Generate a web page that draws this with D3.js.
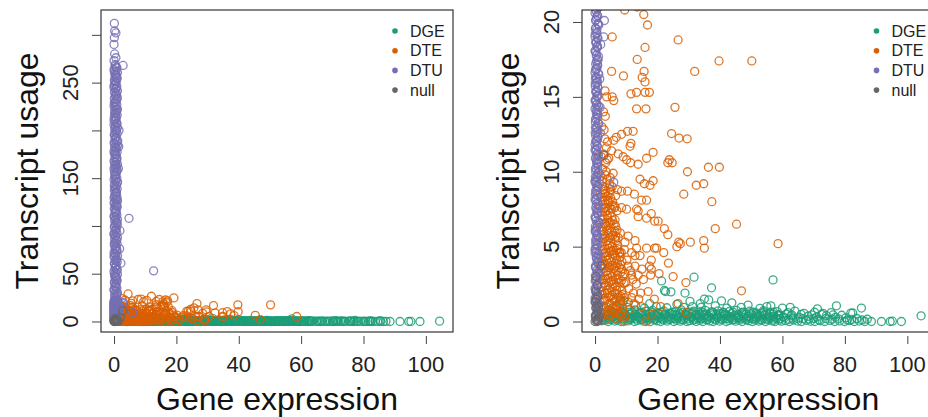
<html>
<head>
<script src="https://d3js.org/d3.v7.min.js"></script>
<style>
body { margin: 0; background: #fff; font-family: "Liberation Sans", Arial, sans-serif; }
svg { display: block; }
.tick line { stroke: #444; }
text.tlab { font-size: 22px; fill: #222; }
text.title { font-size: 32px; fill: #111; }
text.leg { font-size: 16px; fill: #222; dominant-baseline: central; }
</style>
</head>
<body>
<div id="plot"></div>
<script>

var categories = ["DGE", "DTE", "DTU", "null"];
var colors = ["#1B9E77", "#D95F02", "#7570B3", "#666666"];

// [gene expression, transcript usage]
var dgePoints = [
  [2.1,0.05],[3.0,0.1],[4.2,0.0],[5.1,0.12],[6.3,0.03],[7.2,0.08],[8.4,0.0],[9.3,0.1],[10.5,0.04],[11.4,0.13],
  [12.6,0.0],[13.5,0.07],[14.7,0.11],[15.6,0.02],[16.8,0.09],[17.7,0.0],[18.9,0.12],[19.8,0.05],[21.0,0.0],[21.9,0.1],
  [23.1,0.03],[24.0,0.14],[25.2,0.0],[26.1,0.08],[27.3,0.02],[28.2,0.11],[29.4,0.0],[30.3,0.06],[31.5,0.1],[32.4,0.01],
  [33.6,0.09],[34.5,0.0],[35.7,0.12],[36.6,0.04],[37.8,0.0],[38.7,0.1],[39.9,0.03],[40.8,0.13],[42.0,0.0],[42.9,0.07],
  [44.1,0.11],[45.0,0.02],[46.2,0.09],[47.1,0.0],[48.3,0.12],[49.2,0.05],[50.4,0.0],[51.3,0.1],[52.5,0.03],[53.4,0.08],
  [54.6,0.0],[55.5,0.11],[56.7,0.04],[57.6,0.0],[58.8,0.09],[59.7,0.02],[61.0,0.06],[62.2,0.0],[63.5,0.1],[64.9,0.03],
  [66.1,0.0],[67.6,0.08],[69.0,0.02],[70.4,0.0],[72.1,0.05],[73.5,0.0],[75.2,0.07],[76.8,0.0],[78.3,0.04],[79.9,0.0],
  [81.5,0.06],[83.0,0.0],[84.6,0.03],[86.4,0.0],[88.5,0.0],[91.7,0.0],[94.5,0.0],[95.2,0.02],[98.1,0.0],[104.4,0.38],
  [2.6,0.3],[4.0,0.42],[5.5,0.28],[6.9,0.4],[8.2,0.33],[9.7,0.45],[11.0,0.26],[12.4,0.38],[13.9,0.3],[15.2,0.44],
  [16.6,0.27],[18.1,0.36],[19.4,0.42],[20.8,0.29],[22.3,0.4],[23.6,0.32],[25.0,0.45],[26.5,0.26],[27.8,0.37],[29.2,0.43],
  [30.7,0.3],[32.0,0.41],[33.4,0.27],[34.9,0.39],[36.2,0.33],[37.6,0.45],[39.1,0.28],[40.4,0.36],[41.8,0.42],[43.3,0.3],
  [44.6,0.4],[46.0,0.26],[47.5,0.38],[48.8,0.32],[50.2,0.44],[51.7,0.29],[53.0,0.37],[54.4,0.41],[55.9,0.27],[57.2,0.35],
  [58.6,0.43],[60.3,0.3],[62.8,0.38],[65.4,0.27],[68.2,0.35],[71.0,0.3],[74.1,0.4],[77.0,0.28],[80.3,0.25],[83.8,0.2],
  [87.2,0.15],
  [3.3,0.6],[5.0,0.72],[7.4,0.58],[9.0,0.7],[10.9,0.63],[12.8,0.77],[14.5,0.57],[16.3,0.68],[18.4,0.74],[20.1,0.6],
  [22.0,0.7],[23.9,0.56],[25.8,0.66],[27.6,0.78],[29.8,0.62],[31.6,0.7],[33.3,0.59],[35.3,0.75],[37.2,0.64],[39.4,0.71],
  [41.2,0.58],[43.0,0.67],[45.2,0.75],[47.0,0.6],[49.5,0.69],[51.6,0.57],[53.9,0.72],[56.0,0.62],[58.3,0.66],[61.8,0.6],
  [64.0,0.7],[66.9,0.55],[70.3,0.62],[73.0,0.55],[75.6,0.6],[82.5,0.57],
  [2.5,0.15],[3.5,0.22],[4.6,0.18],[5.6,0.25],[6.7,0.16],[7.7,0.21],[8.8,0.19],[9.8,0.24],[10.9,0.15],[11.9,0.22],
  [13.0,0.18],[14.0,0.25],[15.1,0.16],[16.1,0.21],[17.2,0.19],[18.2,0.24],[19.3,0.15],[20.3,0.22],[21.4,0.18],[22.4,0.25],
  [23.5,0.16],[24.5,0.21],[25.6,0.19],[26.6,0.24],[27.7,0.15],[28.7,0.22],[29.8,0.18],[30.8,0.25],[31.9,0.16],[32.9,0.21],
  [34.0,0.19],[35.0,0.24],[36.1,0.15],[37.1,0.22],[38.2,0.18],[39.2,0.25],[40.3,0.16],[41.3,0.21],[42.4,0.19],[43.4,0.24],
  [44.5,0.15],[45.5,0.22],[46.6,0.18],[47.6,0.25],[48.7,0.16],[49.7,0.21],[50.8,0.19],[51.8,0.24],[52.9,0.15],[53.9,0.22],
  [55.0,0.18],[56.0,0.25],[57.1,0.16],[58.1,0.21],[59.2,0.19],[60.6,0.24],[62.0,0.15],[63.3,0.22],[65.0,0.18],[66.6,0.2],
  [68.5,0.16],[70.0,0.21],[71.7,0.12],[73.9,0.2],[75.9,0.15],[78.0,0.18],[80.8,0.1],[82.2,0.14],[85.5,0.1],
  [2.9,0.5],[4.5,0.48],[6.0,0.53],[7.9,0.46],[9.4,0.52],[11.3,0.5],[12.9,0.47],[14.2,0.54],[16.0,0.49],[17.4,0.52],
  [19.0,0.46],[20.5,0.51],[22.6,0.5],[24.4,0.53],[26.0,0.47],[27.2,0.52],[28.9,0.49],[30.9,0.54],[32.6,0.46],[34.2,0.51],
  [35.8,0.5],[37.0,0.53],[38.9,0.47],[40.0,0.52],[41.6,0.49],[43.7,0.54],[45.6,0.46],[47.3,0.51],[48.4,0.5],[50.0,0.53],
  [52.0,0.47],[53.4,0.52],[55.2,0.49],[57.0,0.5],[59.0,0.46],[61.2,0.5],[63.0,0.45],[66.0,0.48],[69.4,0.45],[72.6,0.47],
  [76.2,0.44],[79.0,0.42],
  [3.7,0.38],[5.3,0.62],[6.9,0.38],[8.6,0.62],[10.2,0.38],[11.8,0.62],[13.4,0.38],[15.0,0.62],[16.7,0.38],[18.3,0.62],
  [19.9,0.38],[21.5,0.62],[23.1,0.38],[24.8,0.62],[26.4,0.38],[28.0,0.62],[29.6,0.38],[31.2,0.62],[32.9,0.38],[34.5,0.62],
  [36.1,0.38],[37.7,0.62],[39.3,0.38],[41.0,0.62],[42.6,0.38],[44.2,0.62],[45.8,0.38],[47.4,0.62],[49.1,0.38],[50.7,0.62],
  [52.3,0.38],[53.9,0.62],[55.5,0.38],[57.2,0.62],[58.8,0.38],
  [6.2,1.0],[8.8,1.3],[10.3,0.95],[13.0,1.1],[15.8,0.9],[17.5,1.2],[19.6,1.0],[23.0,0.92],[26.2,1.15],[28.4,0.95],
  [30.4,1.35],[31.2,1.0],[33.7,1.2],[35.0,1.5],[36.4,1.45],[34.0,0.95],[38.5,1.05],[42.2,0.9],[43.8,1.25],[46.8,0.95],
  [49.0,1.1],[52.8,0.88],[55.0,1.0],[56.3,1.05],[60.0,0.9],[62.5,0.95],[71.2,0.85],[77.3,1.05],[81.9,0.56],[85.3,0.9],
  [21.3,2.71],[22.2,2.07],[24.3,1.98],[28.8,1.9],[31.7,2.96],[37.3,2.25],[40.5,1.38],[57.0,2.78],[8.1,1.4],[22.6,2.0]
];

var dtePoints = [
  [16.8,19.8],[5.5,19.0],[26.6,18.8],[16.0,18.3],[13.5,17.5],[39.7,17.4],[50.2,17.4],[5.3,16.7],[15.7,16.7],[31.9,16.7],
  [9.1,16.4],[15.1,16.3],[16.0,16.0],[3.2,15.4],[3.7,15.0],[5.5,15.0],[6.0,14.75],[11.5,15.2],[13.3,15.3],[16.0,15.3],
  [17.4,15.3],[2.7,14.0],[3.3,13.7],[13.3,14.2],[16.3,14.2],[25.6,14.3],[24.5,12.55],[26.9,12.25],[29.5,12.2],[6.0,12.1],
  [6.8,12.3],[8.5,12.5],[10.4,12.7],[12.2,12.7],[11.5,11.9],[11.2,11.7],[5.3,11.4],[7.4,11.2],[9.0,11.0],[10.1,10.8],
  [11.4,10.6],[13.8,10.5],[16.5,10.9],[18.6,11.3],[23.3,10.6],[23.8,10.8],[24.7,10.6],[36.3,10.3],[39.8,10.3],[3.4,10.6],
  [3.9,10.8],[5.8,9.9],[29.6,10.0],[14.4,9.5],[15.8,9.2],[17.6,9.1],[18.6,9.4],[32.4,9.1],[34.8,9.2],[4.7,9.2],
  [5.5,9.0],[7.2,8.8],[8.5,8.7],[10.4,8.7],[12.6,8.5],[28.4,8.5],[14.9,8.1],[16.5,8.1],[37.4,8.0],[3.2,8.1],
  [4.3,8.0],[6.4,7.7],[8.5,7.6],[10.1,7.5],[13.3,7.5],[13.8,7.4],[13.8,7.0],[16.5,6.9],[18.0,7.2],[19.1,6.7],
  [20.2,6.7],[22.2,6.2],[23.3,5.8],[38.5,6.2],[45.3,6.5],[58.6,5.2],[30.5,5.3],[26.8,5.3],[26.2,5.0],[27.3,5.2],
  [34.8,5.4],[35.0,4.9],[19.1,4.9],[19.7,4.9],[16.5,4.9],[6.4,6.0],[7.4,5.6],[9.6,5.3],[10.6,5.7],[12.8,5.4],
  [13.3,4.9],[7.9,4.6],[11.7,4.6],[12.8,4.4],[14.4,4.4],[18.0,4.1],[17.4,3.7],[18.0,3.5],[17.8,3.1],[23.5,3.9],
  [10.6,3.7],[12.8,3.7],[13.8,3.1],[8.5,3.5],[9.6,3.2],[11.7,3.1],[29.1,2.6],[46.9,2.05],[26.6,1.2],[17.0,2.0],
  [14.6,1.9],[12.3,1.9],[11.7,1.6],[9.6,1.6],[10.6,1.3],[8.0,1.5],[7.0,1.1],[9.2,0.0],[16.3,0.0],[29.2,0.6],
  [4.5,28.8],[12.0,26.4],[19.2,24.7],[7.7,23.0],[8.7,23.5],[15.6,20.5],[17.2,21.5],[6.0,21.5],[10.5,22.0],[13.5,21.0],
  [3.5,22.5],[2.5,24.0],[9.5,20.8],[14.5,23.0],[16.5,22.5],
  [1.8,0.3],[3.4,0.1],[5.0,0.4],[6.6,0.2],[8.2,0.35],[2.3,0.8],[3.9,0.7],[5.6,0.9],[7.2,0.75],[8.9,0.85],
  [1.6,1.3],[3.1,1.4],[4.7,1.2],[6.2,1.35],[7.8,1.25],[2.4,1.8],[4.0,1.9],[5.5,1.75],[7.1,1.85],[8.7,1.8],
  [1.9,2.3],[3.3,2.4],[4.9,2.25],[6.5,2.35],[8.0,2.3],[2.6,2.8],[4.2,2.9],[5.8,2.75],[7.4,2.85],
  [1.7,3.3],[3.5,3.35],[5.1,3.25],[6.7,3.4],[8.3,3.3],[2.5,3.8],[4.0,3.9],[5.6,3.75],[7.2,3.85],
  [1.8,4.3],[3.3,4.35],[4.8,4.25],[6.4,4.4],[8.0,4.3],[2.7,4.8],[4.3,4.9],[5.9,4.75],[7.3,4.85],
  [1.9,5.3],[3.5,5.35],[5.0,5.25],[6.7,5.4],[2.6,5.8],[4.2,5.9],[5.7,5.75],[8.1,5.9],
  [1.8,6.3],[3.4,6.35],[4.9,6.25],[6.6,6.4],[2.5,6.8],[4.1,6.9],[5.6,6.75],
  [1.9,7.3],[3.3,7.35],[4.9,7.25],[7.0,7.4],[2.6,7.8],[4.2,7.9],[5.7,7.75],
  [2.0,8.3],[3.6,8.35],[5.0,8.25],[6.6,8.4],[2.8,8.8],[4.4,8.9],[2.2,9.4],[3.8,9.5],[2.4,10.2],
  [2.9,12.8],[3.6,11.6],[4.4,10.9],
  [2.9,0.5],[4.4,0.45],[6.0,0.6],[7.7,0.5],[9.5,0.3],[2.0,1.05],[3.6,1.0],[5.2,1.1],[6.8,1.0],[8.5,1.1],
  [2.8,1.55],[4.4,1.6],[6.0,1.5],[7.5,1.6],[9.2,1.4],[2.2,2.05],[3.8,2.1],[5.4,2.0],[6.9,2.1],[8.6,2.05],
  [2.9,2.55],[4.5,2.6],[6.1,2.5],[7.7,2.6],[9.3,2.55],[2.0,3.05],[3.9,3.1],[5.5,3.0],[7.1,3.1],[8.9,3.0],
  [2.9,3.55],[4.4,3.6],[6.1,3.55],[7.8,3.6],[2.1,4.05],[3.7,4.1],[5.3,4.0],[6.9,4.1],[8.6,4.0],
  [3.0,4.55],[4.6,4.6],[6.2,4.5],[7.8,4.6],[2.2,5.05],[3.9,5.1],[5.5,5.0],[7.1,5.1],
  [3.0,5.55],[4.6,5.6],[6.3,5.5],[2.2,6.05],[3.8,6.1],[5.3,6.0],[7.0,6.1],
  [3.0,6.55],[4.5,6.6],[6.1,6.5],[2.3,7.05],[3.9,7.1],[5.4,7.0],
  [3.0,7.55],[4.6,7.6],[6.3,7.6],[2.4,8.05],[4.0,8.1],[5.6,8.0],
  [3.2,8.55],[4.8,8.6],[2.5,9.0],[3.2,9.8],[4.9,9.6],[2.7,11.2],[3.1,12.2],
  [1.5,0.6],[3.0,0.95],[4.5,0.8],[6.3,0.85],[8.0,0.6],[1.6,1.8],[3.2,1.9],[4.8,1.65],[6.4,1.9],[8.1,1.7],
  [1.5,2.7],[3.4,2.8],[5.0,2.65],[6.6,2.8],[8.4,2.7],[1.6,3.7],[3.2,3.75],[4.8,3.6],[6.5,3.7],[8.2,3.8],
  [1.6,4.7],[3.4,4.6],[5.0,4.7],[6.7,4.75],[8.4,4.6],[1.6,5.6],[3.2,5.7],[4.9,5.6],[6.6,5.7],
  [1.6,6.6],[3.3,6.5],[4.9,6.6],[6.4,6.8],[1.7,7.6],[3.5,7.6],[5.2,7.5],
  [1.7,8.5],[3.3,8.7],[5.0,8.8],[1.9,9.7],[3.6,10.0],[2.0,11.0],[4.0,12.0],[2.2,13.0],
  [9.9,2.6],[10.8,2.2],[11.3,3.4],[10.2,4.1],[12.1,2.8],[9.4,4.8],[11.0,0.8],[12.5,1.2],[14.0,1.5],[13.2,2.5],
  [15.5,2.8],[15.0,3.5],[14.8,1.0],[19.0,1.5],[21.0,1.0],[18.2,0.5],[20.5,3.2],[22.0,4.6],[25.0,3.0]
];

var dtuPoints = [
  [0.1,312],[0.2,304],[0.6,302],[0.1,297],[0.0,290],[2.9,268],[4.8,108],[12.7,53],[1.5,183],[1.0,128],
  [1.8,76],[2.2,61],[1.6,200],[1.4,160],[1.9,95],
  [0.2,280],[0.6,276],[0.0,273],[0.4,269],[0.8,266],[0.1,262],[0.5,258],[0.9,255],[0.3,251],[0.0,247],
  [0.7,244],[0.2,240],[0.5,236],[1.0,233],[0.1,229],[0.4,225],[0.8,222],[0.2,218],[0.6,214],[0.0,211],
  [0.9,207],[0.3,204],[0.7,200],[0.1,196],[0.5,193],[1.2,189],[0.2,186],[0.6,182],[0.0,178],[0.4,175],
  [0.9,171],[0.2,167],[0.6,164],[0.0,160],[0.8,157],[0.3,153],[0.5,149],[1.1,146],[0.1,142],[0.4,139],
  [0.8,135],[0.2,131],[0.6,128],[0.0,124],[0.9,121],[0.3,117],[0.7,114],[0.1,110],[0.5,107],[1.0,103],
  [0.2,99],[0.6,96],[0.0,92],[0.4,89],[0.8,85],[0.1,82],[0.5,78],[0.9,75],[0.3,71],[0.0,68],
  [0.7,64],[0.2,61],[0.5,57],[1.0,54],[0.1,50],[0.4,47],[0.8,43],[0.2,40],[0.6,36],[0.0,33],
  [0.9,29],[0.3,26],[0.7,23],[0.1,21.3],[0.5,22.0],[1.2,21.0],
  [0.3,267.0],[0.9,265.4],[0.0,263.8],[0.6,262.2],[1.1,260.6],[0.2,259.0],[0.8,257.4],[0.4,255.8],[1.0,254.2],[0.1,252.6],
  [0.7,251.0],[0.5,249.4],[0.3,247.8],[0.9,246.2],[0.0,244.6],[0.6,243.0],[1.1,241.4],[0.2,239.8],[0.8,238.2],[0.4,236.6],
  [1.0,235.0],[0.1,233.4],[0.7,231.8],[0.5,230.2],[0.3,228.6],[0.9,227.0],[0.0,225.4],[0.6,223.8],[1.1,222.2],[0.2,220.6],
  [0.8,219.0],[0.4,217.4],[1.0,215.8],[0.1,214.2],[0.7,212.6],[0.5,211.0],[0.3,209.4],[0.9,207.8],[0.0,206.2],[0.6,204.6],
  [1.1,203.0],[0.2,201.4],[0.8,199.8],[0.4,198.2],[1.0,196.6],[0.1,195.0],[0.7,193.4],[0.5,191.8],[0.3,190.2],[0.9,188.6],
  [0.0,187.0],[0.6,185.4],[1.1,183.8],[0.2,182.2],[0.8,180.6],[0.4,179.0],[1.0,177.4],[0.1,175.8],[0.7,174.2],[0.5,172.6],
  [0.3,171.0],[0.9,169.4],[0.0,167.8],[0.6,166.2],[1.1,164.6],[0.2,163.0],[0.8,161.4],[0.4,159.8],[1.0,158.2],[0.1,156.6],
  [0.7,155.0],[0.5,153.4],[0.3,151.8],[0.9,150.2],[0.0,148.6],[0.6,147.0],[1.1,145.4],[0.2,143.8],[0.8,142.2],[0.4,140.6],
  [1.0,139.0],[0.1,137.4],[0.7,135.8],[0.5,134.2],[0.3,132.6],[0.9,131.0],[0.0,129.4],[0.6,127.8],[1.1,126.2],[0.2,124.6],
  [0.8,123.0],[0.4,121.4],[1.0,119.8],[0.1,118.2],[0.7,116.6],[0.5,115.0],[0.3,113.4],[0.9,111.8],[0.0,110.2],[0.6,108.6],
  [1.1,107.0],[0.2,105.4],[0.8,103.8],[0.4,102.2],[1.0,100.6],[0.1,99.0],[0.7,97.4],[0.5,95.8],[0.3,94.2],[0.9,92.6],
  [0.0,91.0],[0.6,89.4],[1.1,87.8],[0.2,86.2],[0.8,84.6],[0.4,83.0],[1.0,81.4],[0.1,79.8],[0.7,78.2],[0.5,76.6],
  [0.3,75.0],[0.9,73.4],[0.0,71.8],[0.6,70.2],[1.1,68.6],[0.2,67.0],[0.8,65.4],[0.4,63.8],[1.0,62.2],[0.1,60.6],
  [0.7,59.0],[0.5,57.4],[0.3,55.8],[0.9,54.2],[0.0,52.6],[0.6,51.0],[1.1,49.4],[0.2,47.8],[0.8,46.2],[0.4,44.6],
  [1.0,43.0],[0.1,41.4],[0.7,39.8],[0.5,38.2],[0.3,36.6],[0.9,35.0],[0.0,33.4],[0.6,31.8],[1.1,30.2],[0.2,28.6],
  [0.8,27.0],[0.4,25.4],[1.0,23.8],[0.1,22.2],[0.7,20.9],
  [0.0,20.6],[0.5,20.3],[0.9,19.9],[0.2,19.6],[0.6,19.3],[0.0,19.0],[0.4,18.7],[0.8,18.4],[0.1,18.1],[0.5,17.8],
  [0.9,17.5],[0.2,17.2],[0.6,16.9],[0.0,16.6],[0.4,16.3],[0.8,16.0],[0.1,15.7],[0.5,15.4],[0.9,15.1],[0.2,14.8],
  [0.6,14.5],[0.0,14.2],[0.4,13.9],[0.8,13.6],[0.1,13.3],[0.5,13.0],[0.9,12.7],[0.2,12.4],[0.6,12.1],[0.0,11.8],
  [0.4,11.5],[0.8,11.2],[0.1,10.9],[0.5,10.6],[0.9,10.3],[0.2,10.0],[0.6,9.7],[0.0,9.4],[0.4,9.1],[0.8,8.8],
  [0.1,8.5],[0.5,8.2],[0.9,7.9],[0.2,7.6],[0.6,7.3],[0.0,7.0],[0.4,6.7],[0.8,6.4],[0.1,6.1],[0.5,5.8],
  [0.9,5.5],[0.2,5.2],[0.6,4.9],[0.0,4.6],[0.4,4.3],[0.8,4.0],[0.1,3.7],[0.5,3.4],[0.9,3.1],[0.2,2.8],
  [0.6,2.5],[0.0,2.2],[0.4,1.9],[0.8,1.6],[0.1,1.3],[0.5,1.0],[0.9,0.7],[0.2,0.4],[0.6,0.1],
  [0.7,20.45],[0.3,20.15],[1.0,19.85],[0.1,19.55],[0.5,19.25],[0.8,18.95],[0.2,18.65],[0.6,18.35],[0.0,18.05],[0.4,17.75],
  [0.9,17.45],[0.7,17.15],[0.3,16.85],[1.0,16.55],[0.1,16.25],[0.5,15.95],[0.8,15.65],[0.2,15.35],[0.6,15.05],[0.0,14.75],
  [0.4,14.45],[0.9,14.15],[0.7,13.85],[0.3,13.55],[1.0,13.25],[0.1,12.95],[0.5,12.65],[0.8,12.35],[0.2,12.05],[0.6,11.75],
  [0.0,11.45],[0.4,11.15],[0.9,10.85],[0.7,10.55],[0.3,10.25],[1.0,9.95],[0.1,9.65],[0.5,9.35],[0.8,9.05],[0.2,8.75],
  [0.6,8.45],[0.0,8.15],[0.4,7.85],[0.9,7.55],[0.7,7.25],[0.3,6.95],[1.0,6.65],[0.1,6.35],[0.5,6.05],[0.8,5.75],
  [0.2,5.45],[0.6,5.15],[0.0,4.85],[0.4,4.55],[0.9,4.25],[0.7,3.95],[0.3,3.65],[1.0,3.35],[0.1,3.05],[0.5,2.75],
  [0.8,2.45],[0.2,2.15],[0.6,1.85],[0.0,1.55],[0.4,1.25],[0.9,0.95],[0.7,0.65],[0.3,0.35],[1.0,0.05],
  [0.45,20.7],[0.85,20.4],[0.15,20.1],[1.2,19.8],[0.55,19.5],[0.05,19.2],[0.95,18.9],[0.35,18.6],[0.75,18.3],[0.25,18.0],
  [1.1,17.7],[0.45,17.4],[0.85,17.1],[0.15,16.8],[1.2,16.5],[0.55,16.2],[0.05,15.9],[0.95,15.6],[0.35,15.3],[0.75,15.0],
  [0.25,14.7],[1.1,14.4],[0.45,14.1],[0.85,13.8],[0.15,13.5],[1.2,13.2],[0.55,12.9],[0.05,12.6],[0.95,12.3],[0.35,12.0],
  [0.75,11.7],[0.25,11.4],[1.1,11.1],[0.45,10.8],[0.85,10.5],[0.15,10.2],[1.2,9.9],[0.55,9.6],[0.05,9.3],[0.95,9.0],
  [0.35,8.7],[0.75,8.4],[0.25,8.1],[1.1,7.8],[0.45,7.5],[0.85,7.2],[0.15,6.9],[1.2,6.6],[0.55,6.3],[0.05,6.0],
  [0.95,5.7],[0.35,5.4],[0.75,5.1],[0.25,4.8],[1.1,4.5],[0.45,4.2],[0.85,3.9],[0.15,3.6],[1.2,3.3],[0.55,3.0],
  [0.05,2.7],[0.95,2.4],[0.35,2.1],[0.75,1.8],[0.25,1.5],[1.1,1.2],[0.45,0.9],[0.85,0.6],[0.15,0.3],
  [3.0,20.1],[2.8,19.0],[1.8,18.5],[1.5,16.2],[1.6,14.3],[1.7,12.6],[1.4,9.2],[6.0,9.3]
];

var nullPoints = [
  [0.0,0.0],[0.3,0.1],[0.6,0.0],[0.9,0.2],[0.1,0.4],[0.5,0.5],[0.8,0.7],[0.2,0.9],[0.6,1.1],[0.0,1.3],
  [0.4,1.5],[0.9,1.7],[0.2,2.0],[0.7,2.4],[1.0,0.05],[1.4,0.3],[2.0,3.7],[2.8,11.1],[1.2,1.0],[0.3,3.0]
];

var xTicks = [0, 20, 40, 60, 80, 100];
var leftYTicks = [0, 50, 100, 150, 200, 250, 300];
var leftYLabels = [0, 50, 150, 250];
var rightYTicks = [0, 5, 10, 15, 20];
var rightYLabels = [0, 5, 10, 15, 20];

var width = 928, height = 417;
var svg = d3.select("#plot").append("svg").attr("width", width).attr("height", height);

var series = [dgePoints, dtePoints, dtuPoints, nullPoints];

function drawPanel(box, yDomain, yTicks, yLabels, id) {
  var x = d3.scaleLinear().domain([-4.18, 108.7]).range([box.left, box.right]);
  var y = d3.scaleLinear().domain(yDomain).range([box.bottom, box.top]);

  svg.append("clipPath").attr("id", id)
    .append("rect")
    .attr("x", box.left).attr("y", box.top)
    .attr("width", box.right - box.left).attr("height", box.bottom - box.top);

  var pts = svg.append("g").attr("clip-path", "url(#" + id + ")");
  series.forEach(function (data, i) {
    pts.append("g").selectAll("circle").data(data).enter()
      .append("circle")
      .attr("cx", d => x(d[0]))
      .attr("cy", d => y(d[1]))
      .attr("r", 4)
      .style("fill", "none")
      .style("stroke", colors[i])
      .style("stroke-width", 1.3)
      .style("stroke-opacity", 0.85);
  });

  svg.append("rect")
    .attr("x", box.left).attr("y", box.top)
    .attr("width", box.right - box.left).attr("height", box.bottom - box.top)
    .style("fill", "none").style("stroke", "#222").style("stroke-width", 1.1);

  // ticks only, labels drawn separately (R style)
  var xAxis = svg.append("g").attr("transform", "translate(0," + (box.bottom + 4) + ")")
    .call(d3.axisBottom(x).tickValues(xTicks).tickSize(8).tickFormat(""));
  xAxis.select(".domain").remove();

  var yAxis = svg.append("g").attr("transform", "translate(" + box.left + ",0)")
    .call(d3.axisLeft(y).tickValues(yTicks).tickSize(9).tickFormat(""));
  yAxis.select(".domain").remove();

  svg.selectAll(null).data(xTicks).enter()
    .append("text").attr("class", "tlab")
    .attr("x", d => x(d)).attr("y", 372)
    .attr("text-anchor", "middle")
    .text(d => d);

  svg.selectAll(null).data(yLabels).enter()
    .append("text").attr("class", "tlab")
    .attr("transform", d => "translate(" + (box.left - 23) + "," + y(d) + ") rotate(-90)")
    .attr("text-anchor", "middle")
    .text(d => d);

  svg.append("text").attr("class", "title")
    .attr("x", (box.left + box.right) / 2).attr("y", 410)
    .attr("text-anchor", "middle")
    .text("Gene expression");

  svg.append("text").attr("class", "title")
    .attr("transform", "translate(" + (box.left - 63) + "," + (box.top + box.bottom) / 2 + ") rotate(-90)")
    .attr("text-anchor", "middle")
    .text("Transcript usage");

  var legend = svg.append("g").selectAll("g").data(categories).enter()
    .append("g")
    .attr("transform", (d, i) => "translate(" + (box.right - 58) + "," + (31 + i * 19.7) + ")");
  legend.append("circle").attr("r", 2.8).style("fill", (d, i) => colors[i]);
  legend.append("text").attr("class", "leg").attr("x", 15).text(d => d);
}

drawPanel({ left: 101, right: 453, top: 10, bottom: 332 }, [-11, 326], leftYTicks, leftYLabels, "clipL");
drawPanel({ left: 582, right: 934.5, top: 10, bottom: 332 }, [-0.7, 20.8], rightYTicks, rightYLabels, "clipR");

</script>
</body>
</html>
